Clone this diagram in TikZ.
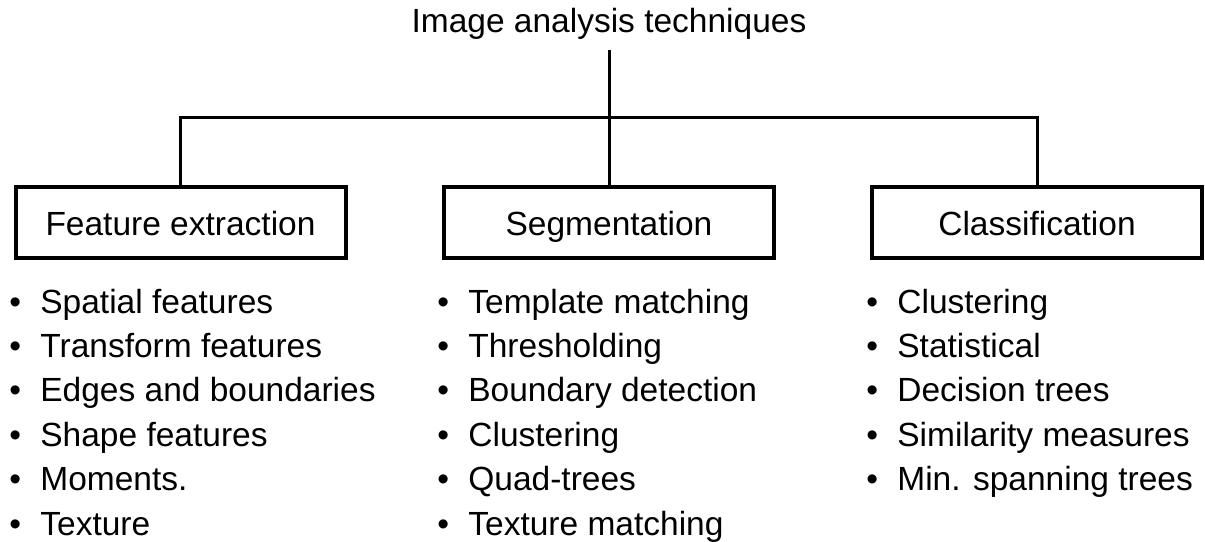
\documentclass[tikz,border=0pt]{standalone}
\usepackage{fontspec}
\setmainfont{Liberation Sans}
\newcommand\bulletitem[1]{\makebox[15.5pt][l]{\textbullet}#1}
\begin{document}
\begin{tikzpicture}[x=0.5pt,y=-0.5pt,
  every node/.style={font=\fontsize{16.75pt}{20pt}\selectfont},
  catbox/.style={draw, line width=2pt, minimum width=165pt, minimum height=35.5pt,
    text height=16pt, text depth=3.5pt, inner sep=0pt},
  conn/.style={line width=1.5pt, line join=miter},
  listitem/.style={anchor=base west, inner sep=0pt}]
\useasboundingbox (0,0) rectangle (1205,541);

% root of the tree
\node[anchor=base, inner sep=0pt, outer sep=5.5pt] (title) at (609,32) {Image analysis techniques};

% three categories
\node[catbox] (fe)  at (180.5,222.5) {Feature extraction};
\node[catbox] (seg) at (609,222.5)   {Segmentation};
\node[catbox] (cl)  at (1037,222.5)  {Classification};

% branching connectors
\coordinate (bar) at (609,117);
\draw[conn] (title.south) -- (seg.north);
\draw[conn] (fe.north) -- (fe.north |- bar) -- (cl.north |- bar) -- (cl.north);

% feature extraction list
\node[listitem] (fe1) at (9,313)   {\bulletitem{Spatial features}};
\node[listitem] (fe2) at (9,357.4) {\bulletitem{Transform features}};
\node[listitem] (fe3) at (9,401.8) {\bulletitem{Edges and boundaries}};
\node[listitem] (fe4) at (9,446.2) {\bulletitem{Shape features}};
\node[listitem] (fe5) at (9,490.6) {\bulletitem{Moments.}};
\node[listitem] (fe6) at (9,535)   {\bulletitem{Texture}};

% segmentation list
\node[listitem] (sg1) at (437,313)   {\bulletitem{Template matching}};
\node[listitem] (sg2) at (437,357.4) {\bulletitem{Thresholding}};
\node[listitem] (sg3) at (437,401.8) {\bulletitem{Boundary detection}};
\node[listitem] (sg4) at (437,446.2) {\bulletitem{Clustering}};
\node[listitem] (sg5) at (437,490.6) {\bulletitem{Quad-trees}};
\node[listitem] (sg6) at (437,535)   {\bulletitem{Texture matching}};

% classification list
\node[listitem] (cl1) at (866,313)   {\bulletitem{Clustering}};
\node[listitem] (cl2) at (866,357.4) {\bulletitem{Statistical}};
\node[listitem] (cl3) at (866,401.8) {\bulletitem{Decision trees}};
\node[listitem] (cl4) at (866,446.2) {\bulletitem{Similarity measures}};
\node[listitem] (cl5) at (866,490.6) {\bulletitem{Min. spanning trees}};
\end{tikzpicture}
\end{document}
